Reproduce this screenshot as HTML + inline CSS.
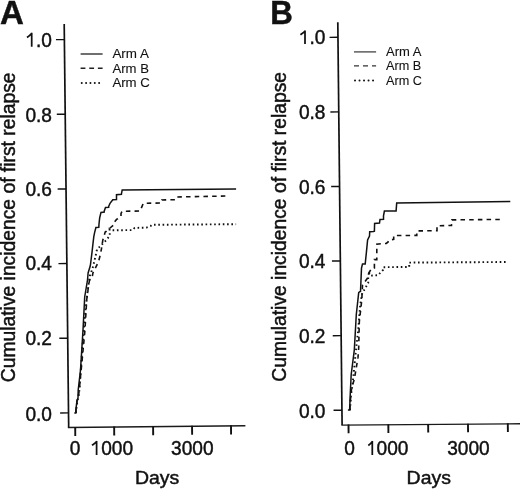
<!DOCTYPE html>
<html><head><meta charset="utf-8"><title>Cumulative incidence of first relapse</title>
<style>html,body{margin:0;padding:0;background:#fff;} svg{display:block;will-change:transform;} text{font-family:"Liberation Sans", sans-serif;stroke:#111;stroke-width:0.45px;} text.lg{stroke-width:0.1px;} tspan.h{fill-opacity:0;stroke-opacity:0;}</style>
</head><body>
<svg width="520" height="489" viewBox="0 0 520 489" font-family='"Liberation Sans", sans-serif' fill="#111">
<rect width="520" height="489" fill="#fff"/>
<line x1="64.20" y1="24.10" x2="68.70" y2="427.50" stroke="#111" stroke-width="1.7" />
<line x1="67.90" y1="427.50" x2="245.40" y2="425.70" stroke="#1a1a1a" stroke-width="1.4" />
<line x1="60.14" y1="412.95" x2="68.54" y2="412.90" stroke="#111" stroke-width="1.45" />
<line x1="59.30" y1="338.29" x2="67.70" y2="338.24" stroke="#111" stroke-width="1.45" />
<line x1="58.47" y1="263.63" x2="66.87" y2="263.58" stroke="#111" stroke-width="1.45" />
<line x1="57.64" y1="188.97" x2="66.04" y2="188.92" stroke="#111" stroke-width="1.45" />
<line x1="56.81" y1="114.31" x2="65.21" y2="114.26" stroke="#111" stroke-width="1.45" />
<line x1="55.97" y1="39.65" x2="64.37" y2="39.60" stroke="#111" stroke-width="1.45" />
<line x1="75.20" y1="426.93" x2="75.29" y2="435.90" stroke="#111" stroke-width="1.9" />
<line x1="114.15" y1="426.54" x2="114.24" y2="435.55" stroke="#111" stroke-width="1.9" />
<line x1="153.10" y1="426.14" x2="153.19" y2="435.20" stroke="#111" stroke-width="1.9" />
<line x1="192.05" y1="425.74" x2="192.14" y2="434.85" stroke="#111" stroke-width="1.9" />
<line x1="231.00" y1="425.35" x2="231.09" y2="434.50" stroke="#111" stroke-width="1.9" />
<text x="52.00" y="46.95" font-size="20.0" text-anchor="end" textLength="26.55" lengthAdjust="spacingAndGlyphs"><tspan class="h">1</tspan>.0</text>
<text x="52.00" y="122.45" font-size="20.0" text-anchor="end" textLength="26.55" lengthAdjust="spacingAndGlyphs">0.8</text>
<text x="52.00" y="196.45" font-size="20.0" text-anchor="end" textLength="26.55" lengthAdjust="spacingAndGlyphs">0.6</text>
<text x="52.00" y="270.20" font-size="20.0" text-anchor="end" textLength="26.55" lengthAdjust="spacingAndGlyphs">0.4</text>
<text x="52.00" y="344.55" font-size="20.0" text-anchor="end" textLength="26.55" lengthAdjust="spacingAndGlyphs">0.2</text>
<text x="52.00" y="420.85" font-size="20.0" text-anchor="end" textLength="26.55" lengthAdjust="spacingAndGlyphs">0.0</text>
<text x="75.10" y="455.10" font-size="20.0" text-anchor="middle" textLength="10.62" lengthAdjust="spacingAndGlyphs">0</text>
<text x="111.80" y="455.10" font-size="20.0" text-anchor="middle" textLength="42.49" lengthAdjust="spacingAndGlyphs"><tspan class="h">1</tspan>000</text>
<text x="192.30" y="455.10" font-size="20.0" text-anchor="middle" textLength="42.49" lengthAdjust="spacingAndGlyphs">3000</text>
<text x="135.00" y="483.60" font-size="18.3" text-anchor="start" textLength="44.3" lengthAdjust="spacingAndGlyphs">Days</text>
<text transform="translate(15.2,382.2) rotate(-90)" font-size="19.3">Cumulative incidence of first relapse</text>
<text x="0.00" y="23.80" font-size="33" text-anchor="start" font-weight="bold" >A</text>
<line x1="80.60" y1="54.00" x2="102.60" y2="54.00" stroke="#2a2a2a" stroke-width="1.35" />
<line x1="80.60" y1="68.30" x2="102.60" y2="68.30" stroke="#222" stroke-width="1.4" stroke-dasharray="4.8,3.85"/>
<line x1="81.75" y1="82.90" x2="99.20" y2="82.90" stroke="#111" stroke-width="2.0" stroke-dasharray="0.01,4.33" stroke-linecap="round"/>
<text x="112.40" y="57.80" font-size="12.6" text-anchor="start" class="lg" textLength="36.5" lengthAdjust="spacingAndGlyphs">Arm A</text>
<text x="112.40" y="72.50" font-size="12.6" text-anchor="start" class="lg" textLength="36.5" lengthAdjust="spacingAndGlyphs">Arm B</text>
<text x="112.40" y="87.20" font-size="12.6" text-anchor="start" class="lg" textLength="37.5" lengthAdjust="spacingAndGlyphs">Arm C</text>
<line x1="337.80" y1="22.20" x2="342.10" y2="425.10" stroke="#111" stroke-width="1.7" />
<line x1="341.30" y1="425.10" x2="520.50" y2="423.75" stroke="#1a1a1a" stroke-width="1.4" />
<line x1="333.54" y1="410.25" x2="341.94" y2="410.20" stroke="#111" stroke-width="1.45" />
<line x1="332.75" y1="335.67" x2="341.15" y2="335.62" stroke="#111" stroke-width="1.45" />
<line x1="331.95" y1="261.09" x2="340.35" y2="261.04" stroke="#111" stroke-width="1.45" />
<line x1="331.15" y1="186.51" x2="339.55" y2="186.46" stroke="#111" stroke-width="1.45" />
<line x1="330.36" y1="111.93" x2="338.76" y2="111.88" stroke="#111" stroke-width="1.45" />
<line x1="329.56" y1="37.35" x2="337.96" y2="37.30" stroke="#111" stroke-width="1.45" />
<line x1="348.50" y1="424.55" x2="348.59" y2="433.20" stroke="#111" stroke-width="1.9" />
<line x1="388.32" y1="424.25" x2="388.41" y2="432.90" stroke="#111" stroke-width="1.9" />
<line x1="428.15" y1="423.95" x2="428.24" y2="432.60" stroke="#111" stroke-width="1.9" />
<line x1="467.98" y1="423.65" x2="468.06" y2="432.30" stroke="#111" stroke-width="1.9" />
<line x1="507.80" y1="423.35" x2="507.89" y2="432.00" stroke="#111" stroke-width="1.9" />
<text x="325.50" y="44.30" font-size="20.0" text-anchor="end" textLength="26.55" lengthAdjust="spacingAndGlyphs"><tspan class="h">1</tspan>.0</text>
<text x="325.50" y="119.30" font-size="20.0" text-anchor="end" textLength="26.55" lengthAdjust="spacingAndGlyphs">0.8</text>
<text x="325.50" y="193.75" font-size="20.0" text-anchor="end" textLength="26.55" lengthAdjust="spacingAndGlyphs">0.6</text>
<text x="325.50" y="268.20" font-size="20.0" text-anchor="end" textLength="26.55" lengthAdjust="spacingAndGlyphs">0.4</text>
<text x="325.50" y="342.85" font-size="20.0" text-anchor="end" textLength="26.55" lengthAdjust="spacingAndGlyphs">0.2</text>
<text x="325.50" y="418.20" font-size="20.0" text-anchor="end" textLength="26.55" lengthAdjust="spacingAndGlyphs">0.0</text>
<text x="349.60" y="455.00" font-size="20.0" text-anchor="middle" textLength="10.62" lengthAdjust="spacingAndGlyphs">0</text>
<text x="387.20" y="455.00" font-size="20.0" text-anchor="middle" textLength="42.49" lengthAdjust="spacingAndGlyphs"><tspan class="h">1</tspan>000</text>
<text x="468.40" y="455.00" font-size="20.0" text-anchor="middle" textLength="42.49" lengthAdjust="spacingAndGlyphs">3000</text>
<text x="406.60" y="483.60" font-size="18.3" text-anchor="start" textLength="44.3" lengthAdjust="spacingAndGlyphs">Days</text>
<text transform="translate(286.4,381.7) rotate(-90)" font-size="19.3">Cumulative incidence of first relapse</text>
<text x="270.20" y="24.10" font-size="33" text-anchor="start" font-weight="bold" textLength="22.63" lengthAdjust="spacingAndGlyphs">B</text>
<line x1="354.00" y1="51.90" x2="376.10" y2="51.90" stroke="#444" stroke-width="1.3" />
<line x1="354.00" y1="65.90" x2="376.10" y2="65.90" stroke="#333" stroke-width="1.3" stroke-dasharray="5,4"/>
<line x1="355.00" y1="80.50" x2="373.20" y2="80.50" stroke="#111" stroke-width="2.0" stroke-dasharray="0.01,4.5" stroke-linecap="round"/>
<text x="386.00" y="55.60" font-size="13.2" text-anchor="start" class="lg" textLength="35.4" lengthAdjust="spacingAndGlyphs">Arm A</text>
<text x="386.00" y="70.40" font-size="13.2" text-anchor="start" class="lg" textLength="35.2" lengthAdjust="spacingAndGlyphs">Arm B</text>
<text x="386.00" y="84.70" font-size="13.2" text-anchor="start" class="lg" textLength="35.9" lengthAdjust="spacingAndGlyphs">Arm C</text>
<polyline points="74.30,412.90 75.80,412.90 76.00,408.60 77.00,400.50 78.00,398.00 78.20,390.00 80.50,370.00 83.00,330.00 84.70,297.00 87.50,280.00 88.10,273.00 90.30,265.80 91.00,260.50 92.20,250.60 93.00,243.30 93.80,236.70 94.60,232.60 95.90,227.50 98.80,227.30 99.00,224.00 99.70,217.70 101.00,212.40 104.20,212.00 104.20,211.20 105.50,207.50 108.70,207.20 108.70,206.30 110.00,203.40 112.80,199.70 116.50,199.50 116.50,194.80 121.40,194.30 121.40,194.00 122.20,189.90 236.10,189.00" fill="none" stroke="#111" stroke-width="1.5" stroke-linejoin="miter" stroke-linecap="butt"/>
<polyline points="75.80,412.90 76.20,408.00 77.20,400.00 78.60,395.00 79.20,390.00 82.60,355.00 84.90,330.70 86.70,300.00 88.00,290.00 89.50,280.00 91.90,279.00 92.90,273.00 98.50,261.70 100.40,254.50 101.80,246.90 102.80,240.20 105.20,232.00 106.00,231.50 109.40,228.50 113.60,225.00 113.70,223.00 116.50,219.40 117.70,218.80 121.00,216.10 121.00,213.60 122.00,211.30 140.20,211.00 141.50,207.60 143.30,203.30 161.10,203.00 161.70,200.00 175.20,199.70 176.40,197.00 228.50,196.00" fill="none" stroke="#111" stroke-width="1.6" stroke-dasharray="4.5,4.2" stroke-linejoin="miter" stroke-linecap="butt"/>
<polyline points="76.00,412.90 76.60,406.00 78.50,396.00 79.40,390.00 82.20,350.00 85.50,310.00 87.80,290.00 89.80,276.00 92.40,268.90 95.00,258.60 97.00,249.40 106.20,240.20 109.80,235.60 109.60,229.50 110.70,230.30 132.30,230.10 134.70,227.90 146.40,227.60 150.70,226.00 152.00,224.80 236.10,224.20" fill="none" stroke="#111" stroke-width="1.9" stroke-dasharray="1.6,2.7" stroke-linejoin="miter" stroke-linecap="butt"/>
<polyline points="347.90,410.10 349.60,410.10 350.30,393.00 351.20,374.50 354.30,350.00 356.30,314.50 358.70,292.60 359.50,291.80 360.50,291.50 361.50,268.20 362.50,263.90 365.20,263.90 366.40,252.30 367.60,240.00 369.50,236.00 369.70,231.70 373.40,231.40 374.40,231.10 374.60,223.40 379.50,223.10 380.00,219.40 383.50,219.20 383.50,215.80 384.40,211.10 396.10,210.90 396.70,202.90 510.30,201.50" fill="none" stroke="#111" stroke-width="1.5" stroke-linejoin="miter" stroke-linecap="butt"/>
<polyline points="349.80,410.10 350.80,395.00 351.80,387.00 354.30,379.50 358.00,357.40 358.70,347.70 359.30,322.00 361.80,299.80 362.50,285.00 365.80,280.50 367.60,278.00 369.40,274.40 369.40,272.00 371.30,268.80 374.40,268.20 374.40,259.60 376.80,259.60 376.80,244.20 381.40,243.60 386.30,243.40 388.10,242.00 388.70,240.30 393.70,239.30 393.70,235.60 416.80,235.40 416.80,230.90 437.00,230.70 437.00,225.80 451.50,225.50 451.80,219.90 503.50,219.40" fill="none" stroke="#111" stroke-width="1.6" stroke-dasharray="4.5,4.2" stroke-linejoin="miter" stroke-linecap="butt"/>
<polyline points="350.00,410.10 351.00,395.00 352.50,385.00 356.00,350.00 358.20,330.00 360.20,305.00 362.00,294.00 364.00,290.30 368.20,283.00 368.20,276.00 368.80,273.70 370.70,275.60 378.00,275.20 383.00,270.00 383.30,267.20 385.00,267.20 409.20,266.90 409.20,262.60 507.90,262.00" fill="none" stroke="#111" stroke-width="1.9" stroke-dasharray="1.6,2.7" stroke-linejoin="miter" stroke-linecap="butt"/>
<path d="M31.70,46.70 V32.80 M32.00,33.00 C30.50,35.00 28.40,36.50 27.00,37.50" fill="none" stroke="#111" stroke-width="1.75" stroke-linecap="butt"/>
<path d="M305.00,44.00 V30.50 M305.30,30.70 C303.80,32.70 301.80,33.70 300.40,34.70" fill="none" stroke="#111" stroke-width="1.75" stroke-linecap="butt"/>
<path d="M96.60,455.10 V441.00 M96.90,441.20 C95.40,443.20 93.40,444.30 92.00,445.30" fill="none" stroke="#111" stroke-width="1.75" stroke-linecap="butt"/>
<path d="M372.30,455.00 V441.00 M372.60,441.20 C371.10,443.20 369.70,444.50 368.30,445.50" fill="none" stroke="#111" stroke-width="1.75" stroke-linecap="butt"/>
</svg>
</body></html>
